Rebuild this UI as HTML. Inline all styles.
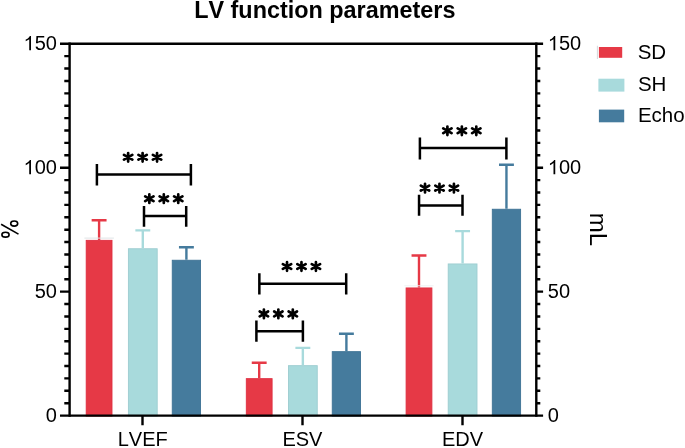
<!DOCTYPE html>
<html><head><meta charset="utf-8"><style>
html,body{margin:0;padding:0;background:#fff;overflow:hidden}
svg{display:block;will-change:transform}
text{font-family:"Liberation Sans",sans-serif;fill:#000;font-kerning:none}
</style></head><body>
<svg width="685" height="448" viewBox="0 0 685 448">
<rect x="86.20" y="240.35" width="25.80" height="175.70" fill="#E63946" stroke="#df2f41" stroke-width="0.9"/>
<path d="M99.1 239.9V220.3M91.65 220.3H106.55" stroke="#E63946" stroke-width="2.4" fill="none"/>
<rect x="128.40" y="248.75" width="28.80" height="167.30" fill="#A8DADC" stroke="#9dcdd0" stroke-width="0.9"/>
<path d="M142.8 248.3V230.4M135.35 230.4H150.25" stroke="#A8DADC" stroke-width="2.4" fill="none"/>
<rect x="172.25" y="260.25" width="28.30" height="155.80" fill="#457B9D" stroke="#3e7395" stroke-width="0.9"/>
<path d="M186.4 259.8V247.3M178.95 247.3H193.85" stroke="#457B9D" stroke-width="2.4" fill="none"/>
<rect x="246.30" y="378.65" width="25.80" height="37.40" fill="#E63946" stroke="#df2f41" stroke-width="0.9"/>
<path d="M259.2 378.2V362.8M251.75 362.8H266.65" stroke="#E63946" stroke-width="2.4" fill="none"/>
<rect x="288.45" y="365.65" width="28.80" height="50.40" fill="#A8DADC" stroke="#9dcdd0" stroke-width="0.9"/>
<path d="M302.85 365.2V347.9M295.40 347.9H310.30" stroke="#A8DADC" stroke-width="2.4" fill="none"/>
<rect x="332.25" y="351.65" width="28.30" height="64.40" fill="#457B9D" stroke="#3e7395" stroke-width="0.9"/>
<path d="M346.4 351.2V333.8M338.95 333.8H353.85" stroke="#457B9D" stroke-width="2.4" fill="none"/>
<rect x="406.10" y="287.95" width="25.80" height="128.10" fill="#E63946" stroke="#df2f41" stroke-width="0.9"/>
<path d="M419.0 287.5V255.5M411.55 255.5H426.45" stroke="#E63946" stroke-width="2.4" fill="none"/>
<rect x="448.20" y="263.95" width="28.80" height="152.10" fill="#A8DADC" stroke="#9dcdd0" stroke-width="0.9"/>
<path d="M462.6 263.5V231.1M455.15 231.1H470.05" stroke="#A8DADC" stroke-width="2.4" fill="none"/>
<rect x="492.30" y="209.25" width="28.30" height="206.80" fill="#457B9D" stroke="#3e7395" stroke-width="0.9"/>
<path d="M506.45 208.8V164.8M499.00 164.8H513.90" stroke="#457B9D" stroke-width="2.4" fill="none"/>
<path d="M84.4 238.1H113.9" stroke="#dfe4e6" stroke-width="1"/><path d="M404.4 285.8H433.6" stroke="#edf1f2" stroke-width="1"/><path d="M597.4 45.8V59" stroke="#cdd3d6" stroke-width="0.9"/>
<path d="M96.9 164.0V185.4M190.9 164.0V185.4M96.9 174.6H190.9" stroke="#000" stroke-width="2.5" fill="none"/>
<path d="M144.0 206.0V226.8M186.2 206.0V226.8M144.0 216.0H186.2" stroke="#000" stroke-width="2.5" fill="none"/>
<path d="M259.35 273.2V294.4M346.2 273.2V294.4M259.35 283.8H346.2" stroke="#000" stroke-width="2.5" fill="none"/>
<path d="M256.4 320.6V341.8M302.9 320.6V341.8M256.4 331.2H302.9" stroke="#000" stroke-width="2.5" fill="none"/>
<path d="M419.9 137.5V159.4M506.4 137.5V159.4M419.9 148.1H506.4" stroke="#000" stroke-width="2.5" fill="none"/>
<path d="M419.05 194.7V215.7M462.5 194.7V215.7M419.05 205.4H462.5" stroke="#000" stroke-width="2.5" fill="none"/>
<path d="M128.15 153.00V161.60M123.99 154.90L132.31 159.70M132.31 154.90L123.99 159.70M142.60 153.00V161.60M138.44 154.90L146.76 159.70M146.76 154.90L138.44 159.70M157.05 153.00V161.60M152.89 154.90L161.21 159.70M161.21 154.90L152.89 159.70M149.35 194.40V203.00M145.19 196.30L153.51 201.10M153.51 196.30L145.19 201.10M163.80 194.40V203.00M159.64 196.30L167.96 201.10M167.96 196.30L159.64 201.10M178.25 194.40V203.00M174.09 196.30L182.41 201.10M182.41 196.30L174.09 201.10M287.02 262.20V270.80M282.87 264.10L291.18 268.90M291.18 264.10L282.87 268.90M301.47 262.20V270.80M297.32 264.10L305.63 268.90M305.63 264.10L297.32 268.90M315.92 262.20V270.80M311.77 264.10L320.08 268.90M320.08 264.10L311.77 268.90M263.90 309.60V318.20M259.74 311.50L268.06 316.30M268.06 311.50L259.74 316.30M278.35 309.60V318.20M274.19 311.50L282.51 316.30M282.51 311.50L274.19 316.30M292.80 309.60V318.20M288.64 311.50L296.96 316.30M296.96 311.50L288.64 316.30M447.40 126.50V135.10M443.24 128.40L451.56 133.20M451.56 128.40L443.24 133.20M461.85 126.50V135.10M457.69 128.40L466.01 133.20M466.01 128.40L457.69 133.20M476.30 126.50V135.10M472.14 128.40L480.46 133.20M480.46 128.40L472.14 133.20M425.02 183.80V192.40M420.87 185.70L429.18 190.50M429.18 185.70L420.87 190.50M439.47 183.80V192.40M435.32 185.70L443.63 190.50M443.63 185.70L435.32 190.50M453.92 183.80V192.40M449.77 185.70L458.08 190.50M458.08 185.70L449.77 190.50" stroke="#000" stroke-width="2.7" stroke-linecap="round" fill="none"/>
<rect x="598.9" y="47" width="23.3" height="10.8" fill="#E63946"/>
<rect x="598.4" y="78.7" width="26" height="12.9" fill="#A8DADC"/>
<rect x="598.9" y="109.6" width="25.3" height="12.7" fill="#457B9D"/>
<g fill="none" stroke="#000" stroke-width="1.6"><ellipse cx="14.2" cy="223.55" rx="3.5" ry="2.55"/><ellipse cx="5.5" cy="234.7" rx="3.6" ry="2.45"/><path d="M1.1 224.2L18.5 234.1"/></g>
<path d="M60 43.8H543.1M60 415.6H543.1" stroke="#000" stroke-width="2.4" fill="none"/>
<path d="M69.6 42.599999999999994V416.8M536.3 42.599999999999994V416.8" stroke="#000" stroke-width="2.4" fill="none"/>
<path d="M64.3 403.21H69.6M536.3 403.21H540.3M64.3 390.81H69.6M536.3 390.81H540.3M64.3 378.42H69.6M536.3 378.42H540.3M64.3 366.02H69.6M536.3 366.02H540.3M64.3 353.62H69.6M536.3 353.62H540.3M64.3 341.23H69.6M536.3 341.23H540.3M64.3 328.84H69.6M536.3 328.84H540.3M64.3 316.44H69.6M536.3 316.44H540.3M64.3 304.05H69.6M536.3 304.05H540.3M60 291.65H69.6M536.3 291.65H543.1M64.3 279.25H69.6M536.3 279.25H540.3M64.3 266.86H69.6M536.3 266.86H540.3M64.3 254.47H69.6M536.3 254.47H540.3M64.3 242.07H69.6M536.3 242.07H540.3M64.3 229.68H69.6M536.3 229.68H540.3M64.3 217.28H69.6M536.3 217.28H540.3M64.3 204.89H69.6M536.3 204.89H540.3M64.3 192.49H69.6M536.3 192.49H540.3M64.3 180.1H69.6M536.3 180.1H540.3M60 167.7H69.6M536.3 167.7H543.1M64.3 155.31H69.6M536.3 155.31H540.3M64.3 142.91H69.6M536.3 142.91H540.3M64.3 130.51H69.6M536.3 130.51H540.3M64.3 118.12H69.6M536.3 118.12H540.3M64.3 105.73H69.6M536.3 105.73H540.3M64.3 93.33H69.6M536.3 93.33H540.3M64.3 80.94H69.6M536.3 80.94H540.3M64.3 68.54H69.6M536.3 68.54H540.3M64.3 56.14H69.6M536.3 56.14H540.3M142.5 415.6V425.2M302.5 415.6V425.2M462.5 415.6V425.2" stroke="#000" stroke-width="2.4" fill="none"/>
<text x="324.8" y="18.1" font-size="23.4" text-anchor="middle" font-weight="bold" >LV function parameters</text>
<text x="56.9" y="50.35" font-size="20" text-anchor="end" font-weight="normal" >50</text>
<text x="558.92" y="50.35" font-size="20" text-anchor="start" font-weight="normal" >50</text>
<text x="56.9" y="174.3" font-size="20" text-anchor="end" font-weight="normal" >00</text>
<text x="558.92" y="174.3" font-size="20" text-anchor="start" font-weight="normal" >00</text>
<text x="56.9" y="298.25" font-size="20" text-anchor="end" font-weight="normal" >50</text>
<text x="547.8" y="298.25" font-size="20" text-anchor="start" font-weight="normal" >50</text>
<text x="56.9" y="422.2" font-size="20" text-anchor="end" font-weight="normal" >0</text>
<text x="547.8" y="422.2" font-size="20" text-anchor="start" font-weight="normal" >0</text>
<path transform="translate(23.54 50.35) scale(0.009765625 -0.009765625)" d="M763 0L583 0L583 1147Q518 1085 412 1023Q306 961 222 930L222 1104Q373 1175 486 1276Q599 1377 646 1472L763 1472Z"/><path transform="translate(547.80 50.35) scale(0.009765625 -0.009765625)" d="M763 0L583 0L583 1147Q518 1085 412 1023Q306 961 222 930L222 1104Q373 1175 486 1276Q599 1377 646 1472L763 1472Z"/><path transform="translate(23.54 174.3) scale(0.009765625 -0.009765625)" d="M763 0L583 0L583 1147Q518 1085 412 1023Q306 961 222 930L222 1104Q373 1175 486 1276Q599 1377 646 1472L763 1472Z"/><path transform="translate(547.80 174.3) scale(0.009765625 -0.009765625)" d="M763 0L583 0L583 1147Q518 1085 412 1023Q306 961 222 930L222 1104Q373 1175 486 1276Q599 1377 646 1472L763 1472Z"/>
<text x="142.7" y="446" font-size="20" text-anchor="middle" font-weight="normal" >LVEF</text>
<text x="302.4" y="446" font-size="20" text-anchor="middle" font-weight="normal" >ESV</text>
<text x="462.6" y="446" font-size="20" text-anchor="middle" font-weight="normal" >EDV</text>
<text x="637.7" y="58.6" font-size="20.5" text-anchor="start" font-weight="normal" >SD</text>
<text x="637.9" y="91.4" font-size="20.5" text-anchor="start" font-weight="normal" >SH</text>
<text x="637.9" y="122" font-size="20.5" text-anchor="start" font-weight="normal" >Echo</text>
<text transform="translate(590.2,229.5) rotate(90)" font-size="24" text-anchor="middle">mL</text>
</svg>
</body></html>
